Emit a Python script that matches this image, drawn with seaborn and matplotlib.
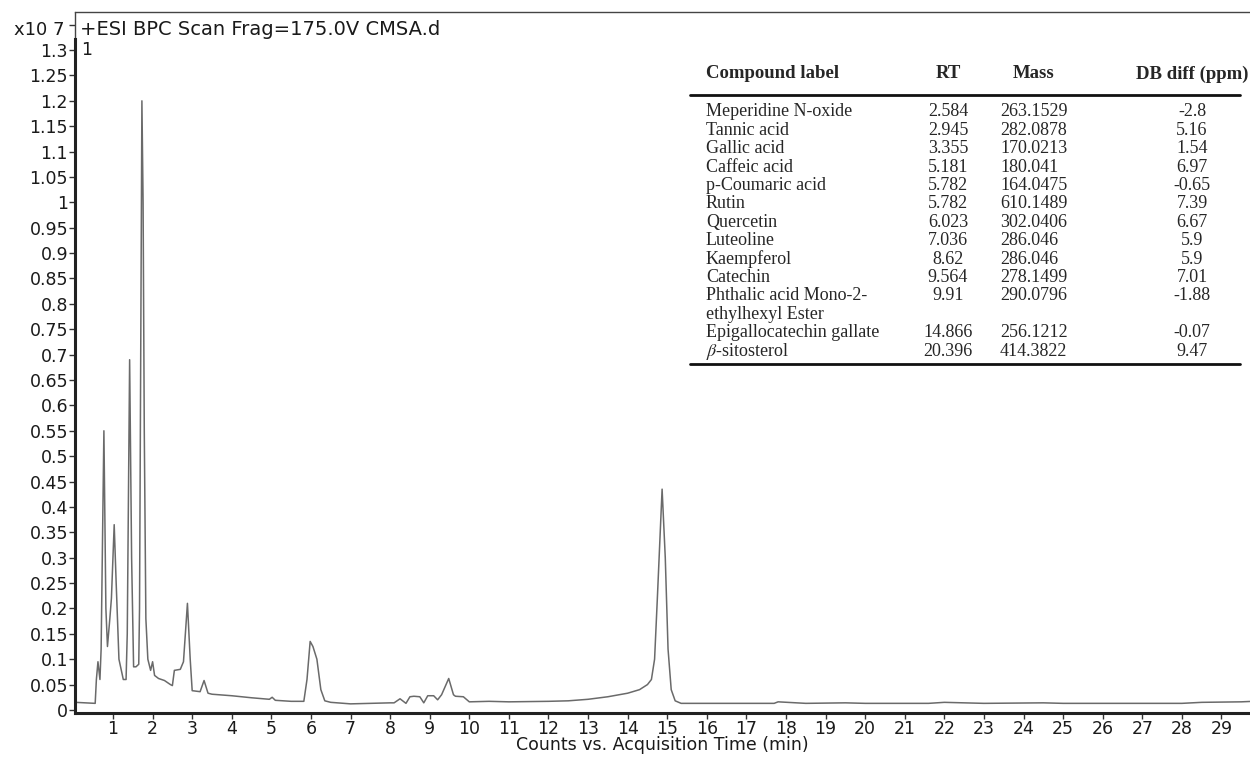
import numpy as np
import pandas as pd
import matplotlib
matplotlib.use("Agg")
import matplotlib.pyplot as plt
import seaborn as sns
from matplotlib.ticker import FuncFormatter, MultipleLocator

# chromatogram trace (time in min, counts in x10^7)
rt_min = [0.05, 0.55, 0.58, 0.62, 0.67, 0.70, 0.77, 0.82, 0.86, 0.92, 0.96, 1.03, 1.08, 1.15,
          1.26, 1.33, 1.36, 1.42, 1.47, 1.52, 1.58, 1.65, 1.67, 1.70, 1.73, 1.76, 1.79, 1.83,
          1.88, 1.95, 2.00, 2.05, 2.15, 2.30, 2.45, 2.50, 2.55, 2.70, 2.78, 2.88, 2.95, 3.00,
          3.20, 3.30, 3.40, 3.50, 4.00, 4.50, 4.95, 5.02, 5.10, 5.50, 5.82, 5.90, 5.98, 6.05,
          6.15, 6.25, 6.35, 6.50, 7.00, 7.50, 8.00, 8.10, 8.25, 8.40, 8.50, 8.60, 8.75, 8.85,
          8.95, 9.10, 9.20, 9.30, 9.48, 9.60, 9.65, 9.85, 10.0, 10.5, 11.0, 12.0, 12.5, 13.0,
          13.5, 14.0, 14.3, 14.5, 14.6, 14.68, 14.75, 14.87, 14.95, 15.02, 15.1, 15.2, 15.35,
          16.0, 17.0, 17.7, 17.8, 18.5, 19.5, 20.0, 21.6, 22.0, 23.0, 24.5, 25.0, 26.0, 27.0,
          28.0, 28.5, 29.5, 29.8]
counts = [0.015, 0.013, 0.060, 0.095, 0.060, 0.120, 0.550, 0.200, 0.125, 0.180, 0.220, 0.365, 0.250, 0.100,
          0.060, 0.060, 0.150, 0.690, 0.300, 0.085, 0.085, 0.090, 0.200, 0.700, 1.200, 1.000, 0.550, 0.180,
          0.100, 0.078, 0.095, 0.068, 0.062, 0.058, 0.050, 0.048, 0.078, 0.080, 0.095, 0.210, 0.100, 0.038,
          0.036, 0.058, 0.033, 0.031, 0.028, 0.024, 0.021, 0.025, 0.019, 0.017, 0.017, 0.060, 0.135, 0.125,
          0.100, 0.040, 0.018, 0.015, 0.012, 0.013, 0.014, 0.014, 0.022, 0.013, 0.026, 0.027, 0.026, 0.014,
          0.028, 0.028, 0.020, 0.030, 0.062, 0.030, 0.027, 0.026, 0.016, 0.017, 0.016, 0.017, 0.018, 0.021,
          0.026, 0.033, 0.040, 0.050, 0.060, 0.100, 0.220, 0.435, 0.300, 0.120, 0.040, 0.018, 0.013,
          0.013, 0.013, 0.013, 0.016, 0.013, 0.014, 0.013, 0.013, 0.015, 0.013, 0.014, 0.013, 0.013, 0.013,
          0.013, 0.015, 0.016, 0.017]

# identified compounds table
compounds = ["Meperidine N-oxide", "Tannic acid", "Gallic acid", "Caffeic acid", "p-Coumaric acid",
             "Rutin", "Quercetin", "Luteoline", "Kaempferol", "Catechin",
             "Phthalic acid Mono-2-\nethylhexyl Ester", "Epigallocatechin gallate", r"$\beta$-sitosterol"]
rt_values = ["2.584", "2.945", "3.355", "5.181", "5.782", "5.782", "6.023", "7.036", "8.62", "9.564",
             "9.91", "14.866", "20.396"]
mass_values = ["263.1529", "282.0878", "170.0213", "180.041", "164.0475", "610.1489", "302.0406",
               "286.046", "286.046", "278.1499", "290.0796", "256.1212", "414.3822"]
db_diff = ["-2.8", "5.16", "1.54", "6.97", "-0.65", "7.39", "6.67", "5.9", "5.9", "7.01", "-1.88",
           "-0.07", "9.47"]

sns.set_style("ticks")
plt.rcParams["font.family"] = ["DejaVu Sans"]
plt.rcParams["mathtext.fontset"] = "stix"

W, H = 1250, 757
fig = plt.figure(figsize=(W / 100, H / 100), dpi=100)
ax = fig.add_axes([75 / W, 1 - 713 / H, 1 - 75 / W, (713 - 12) / H])

df = pd.DataFrame({"time": rt_min, "counts": counts})
sns.lineplot(data=df, x="time", y="counts", color="#6a6a6a", linewidth=1.1, ax=ax)

ymin, ymax = -0.006, 1.375
xmin, xmax = 0.04, 29.72
ax.set_xlim(xmin, xmax)
ax.set_ylim(ymin, ymax)

ax.yaxis.set_major_locator(MultipleLocator(0.05))
ax.yaxis.set_major_formatter(FuncFormatter(lambda v, p: f"{round(v, 2):g}" if v <= 1.301 else ""))
ax.set_xticks(range(1, 30))
ax.tick_params(axis="both", direction="out", length=4, width=1, color="#333333",
               labelsize=12.5, labelcolor="#1a1a1a", pad=1)
ax.set_ylabel("")
ax.set_xlabel("Counts vs. Acquisition Time (min)", fontsize=12.5, color="#1a1a1a", labelpad=-1.5)

for s in ["left", "bottom"]:
    ax.spines[s].set_linewidth(2.2)
    ax.spines[s].set_color("#222222")
ax.spines["left"].set_bounds(ymin, 1.322)
ax.spines["right"].set_visible(False)
ax.spines["top"].set_linewidth(1.0)
ax.spines["top"].set_color("#444444")
ax.plot([xmin, xmin], [1.322, ymax], color="#444444", lw=1.0, clip_on=False)

ax.text(0.17, 1.341, "+ESI BPC Scan Frag=175.0V CMSA.d", fontsize=14, va="center", color="#1a1a1a")
ax.text(0.19, 1.30, "1", fontsize=12.5, va="center", color="#1a1a1a")
fig.text(64 / W, 1 - 30 / H, "x10 7", ha="right", va="center", fontsize=13, color="#1a1a1a")

# table in the upper right
serif = ["Liberation Serif", "DejaVu Serif"]
tfs = 13


def fy(y):
    return 1 - y / H


col_name, col_rt, col_mass, col_db = 706, 948, 1000, 1192
hdr = dict(fontsize=13.5, fontweight="bold", family=serif, va="center")
fig.text(col_name / W, fy(74), "Compound label", **hdr)
fig.text(col_rt / W, fy(74), "RT", ha="center", **hdr)
fig.text(1034 / W, fy(74), "Mass", ha="center", **hdr)
fig.text(col_db / W, fy(74), "DB diff (ppm)", ha="center", **hdr)
fig.add_artist(plt.Line2D([690 / W, 1240 / W], [fy(95), fy(95)], transform=fig.transFigure, color="#111111", lw=2))

row_h = 18.4
line = 0
for name, rt, mass, db in zip(compounds, rt_values, mass_values, db_diff):
    y = 112 + line * row_h
    for k, part in enumerate(name.split("\n")):
        fig.text(col_name / W, fy(y + k * row_h), part, fontsize=tfs, family=serif, va="center")
    fig.text(col_rt / W, fy(y), rt, fontsize=tfs, family=serif, va="center", ha="center")
    fig.text(col_mass / W, fy(y), mass, fontsize=tfs, family=serif, va="center")
    fig.text(col_db / W, fy(y), db, fontsize=tfs, family=serif, va="center", ha="center")
    line += len(name.split("\n"))
y_end = 112 + (line - 1) * row_h + 13
fig.add_artist(plt.Line2D([690 / W, 1240 / W], [fy(y_end), fy(y_end)], transform=fig.transFigure, color="#111111", lw=2))

fig.savefig("out.png", dpi=100, facecolor="white")
